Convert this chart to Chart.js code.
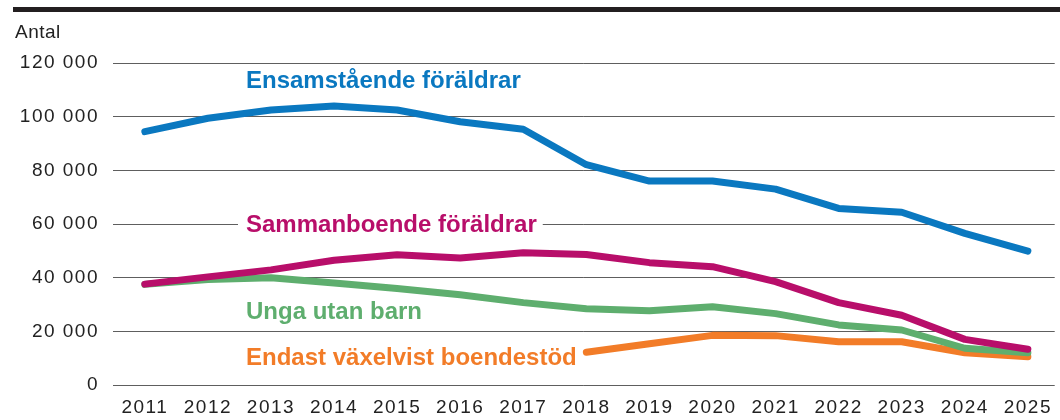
<!DOCTYPE html>
<html lang="sv">
<head>
<meta charset="utf-8">
<title>Antal</title>
<script src="https://cdn.jsdelivr.net/npm/chart.js@4.4.1/dist/chart.umd.min.js"></script>
<style>
  html, body { margin: 0; padding: 0; background: #fff; }
  #wrap { position: relative; width: 1060px; height: 420px; }
</style>
</head>
<body>
<div id="wrap"><canvas id="chart"></canvas></div>
<script>
// Data
const years = [2011, 2012, 2013, 2014, 2015, 2016, 2017, 2018, 2019, 2020, 2021, 2022, 2023, 2024, 2025];
const ensamstaende = [94400, 99400, 102500, 104000, 102500, 98100, 95300, 82100, 76000, 76000, 73000, 65800, 64400, 56500, 49900];
const sammanboende = [37600, 40300, 42900, 46500, 48500, 47300, 49300, 48600, 45600, 44100, 38500, 30700, 26000, 17000, 13300];
const ungaUtanBarn = [37500, 39300, 40000, 38000, 36000, 33600, 30700, 28400, 27700, 29200, 26600, 22400, 20500, 13700, 12000];
const endastVaxelvist = [null, null, null, null, null, null, null, 12200, 15400, 18500, 18400, 16100, 16100, 12000, 10500];
const yTicks = [0, 20000, 40000, 60000, 80000, 100000, 120000];
const seriesNames = ['Ensamstående föräldrar', 'Sammanboende föräldrar', 'Unga utan barn', 'Endast växelvist boendestöd'];
const seriesColors = ['#0a78c0', '#b80e6a', '#5eae6e', '#f27c28'];

const FONT = '"Liberation Sans", Arial, Helvetica, sans-serif';

function points(values) {
  return years.map((y, i) => ({ x: y, y: values[i] }));
}

function fmt(v) {
  return String(v).replace(/\B(?=(\d{3})+(?!\d))/g, ' ');
}

// series labels written straight in the plot
const labelSpots = [
  { x: 246, y: 88, box: false },
  { x: 246, y: 232, box: true },
  { x: 246, y: 319, box: false },
  { x: 246, y: 365, box: false }
];

const frame = {
  id: 'frame',
  beforeDraw(chart) {
    const ctx = chart.ctx;
    ctx.save();
    ctx.fillStyle = '#231f20';
    ctx.fillRect(13, 7, 1047, 5);
    ctx.fillStyle = '#222';
    ctx.font = '19px ' + FONT;
    ctx.letterSpacing = '0.5px';
    ctx.textAlign = 'left';
    ctx.textBaseline = 'alphabetic';
    ctx.fillText('Antal', 15, 38);
    ctx.restore();
    // wider tracking for the tick labels
    ctx.letterSpacing = '1.5px';
  },
  afterDraw(chart) {
    const ctx = chart.ctx;
    ctx.save();
    ctx.letterSpacing = '0px';
    ctx.font = 'bold 24px ' + FONT;
    ctx.textAlign = 'left';
    ctx.textBaseline = 'alphabetic';
    seriesNames.forEach((name, i) => {
      const s = labelSpots[i];
      const w = ctx.measureText(name).width;
      if (s.box) {
        ctx.fillStyle = '#fff';
        ctx.fillRect(s.x - 8, s.y - 22, w + 14, 28);
      }
      ctx.fillStyle = seriesColors[i];
      ctx.fillText(name, s.x, s.y);
    });
    ctx.restore();
    ctx.letterSpacing = '0px';
  }
};

const lineStyle = {
  borderWidth: 7,
  pointRadius: 0,
  pointHoverRadius: 0,
  tension: 0,
  fill: false,
  spanGaps: false,
  borderCapStyle: 'round',
  borderJoinStyle: 'round'
};

new Chart(document.getElementById('chart'), {
  type: 'line',
  data: {
    datasets: [
      Object.assign({ label: seriesNames[0], data: points(ensamstaende), borderColor: seriesColors[0] }, lineStyle),
      Object.assign({ label: seriesNames[1], data: points(sammanboende), borderColor: seriesColors[1] }, lineStyle),
      Object.assign({ label: seriesNames[2], data: points(ungaUtanBarn), borderColor: seriesColors[2] }, lineStyle),
      Object.assign({ label: seriesNames[3], data: points(endastVaxelvist), borderColor: seriesColors[3] }, lineStyle)
    ]
  },
  options: {
    responsive: true,
    maintainAspectRatio: false,
    animation: false,
    layout: { padding: { top: 63, left: 0, right: 0, bottom: 0 } },
    plugins: {
      legend: { display: false },
      tooltip: { enabled: false }
    },
    scales: {
      x: {
        type: 'linear',
        min: 2010.4955,
        max: 2025.4257,
        grid: { display: false, drawTicks: false },
        border: { display: false },
        afterBuildTicks: axis => { axis.ticks = years.map(v => ({ value: v })); },
        afterFit: axis => { axis.height = 35; },
        ticks: {
          padding: 11,
          color: '#222',
          font: { family: FONT, size: 19 },
          maxRotation: 0,
          autoSkip: false,
          callback: v => String(v)
        }
      },
      y: {
        min: 0,
        max: 120000,
        afterBuildTicks: axis => { axis.ticks = yTicks.map(v => ({ value: v })); },
        afterFit: axis => { axis.width = 113; },
        grid: { color: '#5e5e5e', lineWidth: 1, drawTicks: false },
        border: { display: false },
        ticks: {
          padding: 14,
          color: '#222',
          font: { family: FONT, size: 19 },
          callback: v => fmt(v)
        }
      }
    }
  },
  plugins: [frame]
});
</script>
</body>
</html>
